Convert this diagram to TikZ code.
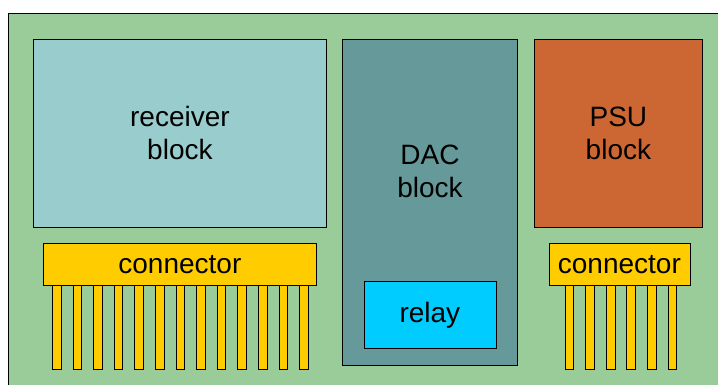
\documentclass[tikz,border=0pt]{standalone}
\usepackage{fontspec}
\setmainfont{Liberation Sans}
\usepackage{xcolor}
\usetikzlibrary{positioning}
\definecolor{boardgreen}{HTML}{99CC99}
\definecolor{rxcyan}{HTML}{99CCCC}
\definecolor{dacteal}{HTML}{669999}
\definecolor{psuorange}{HTML}{CC6633}
\definecolor{connyellow}{HTML}{FFCC00}
\definecolor{relayblue}{HTML}{00CCFF}
\tikzset{
  block/.style={draw=black, line width=0.8pt, rectangle, inner sep=0pt, anchor=north west,
    align=center, font=\fontsize{28}{33}\selectfont},
  pin/.style={draw=black, line width=0.8pt, fill=connyellow}
}

\begin{document}
\begin{tikzpicture}[x=1pt, y=-1pt]
  \useasboundingbox (0,0) rectangle (718,385);
  % Board
  \draw[line width=0.9pt, fill=boardgreen] (8,13) rectangle (722,392);
  % Blocks
  \node[block, fill=rxcyan, minimum width=293pt, minimum height=188pt] (receiver) at (33,39) {receiver\\block};
  \node[block, fill=dacteal, minimum width=175pt, minimum height=326pt] (dac) at (342,39) {};
  \node[font=\fontsize{28}{33}\selectfont, align=center] (daclabel) at (430,171) {DAC\\block};
  \node[block, fill=psuorange, minimum width=168pt, minimum height=188pt] (psu) at (534,39) {PSU\\block};
  \node[block, fill=relayblue, minimum width=132pt, minimum height=67pt] (relay) at (363.5,281) {relay};
  % Connectors
  \node[block, fill=connyellow, minimum width=273pt, minimum height=42pt] (leftconn) at (43,243) {connector};
  \node[block, fill=connyellow, minimum width=141pt, minimum height=42pt] (rightconn) at (548.5,243) {connector};
  % Pins
  \foreach \i in {0,...,12}
    \draw[pin] ([xshift=9.3pt+\i*20.6pt]leftconn.south west) rectangle ++(8.7,84);
  \foreach \i in {0,...,5}
    \draw[pin] ([xshift=16.5pt+\i*20.6pt]rightconn.south west) rectangle ++(8.7,84);
\end{tikzpicture}
\end{document}
